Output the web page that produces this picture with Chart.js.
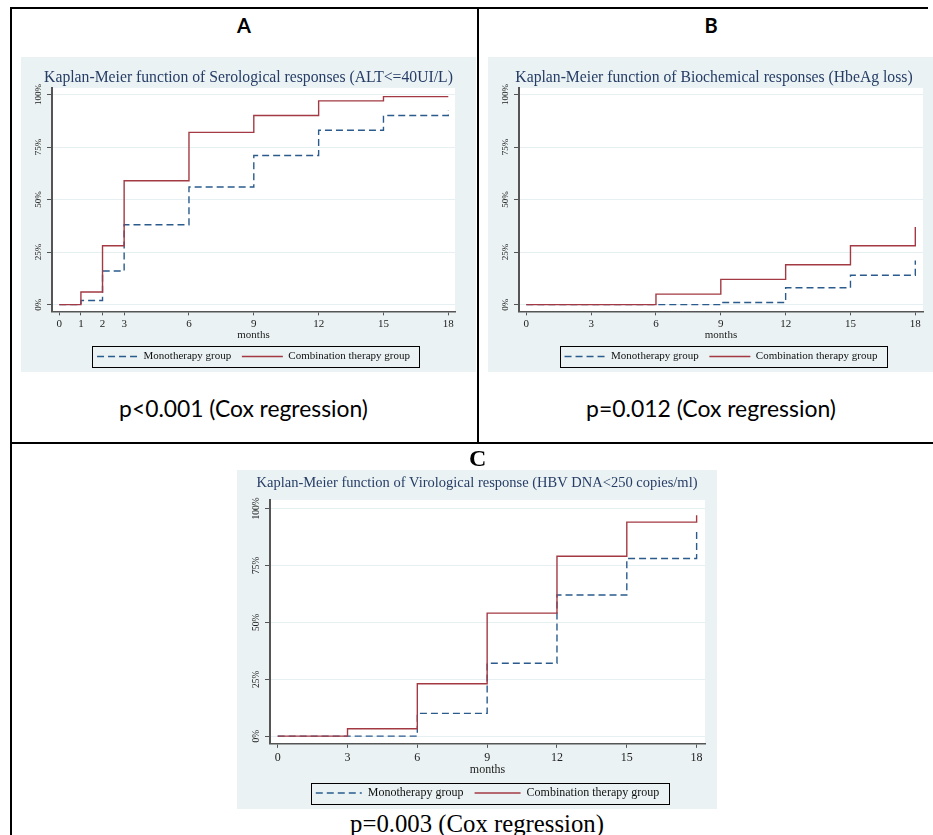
<!DOCTYPE html>
<html>
<head>
<meta charset="utf-8">
<script src="https://cdn.jsdelivr.net/npm/chart.js@4.4.1/dist/chart.umd.min.js"></script>
<style>
html,body{margin:0;padding:0;width:933px;height:835px;overflow:hidden;background:#fff;}
.ln{position:absolute;background:#000;}
canvas{position:absolute;background:#EAF2F3;}
.txt{position:absolute;white-space:nowrap;line-height:1;transform:translate(-50%,-50%);color:#000;}
.sans{font-family:Lato,"Open Sans",sans-serif;}
.serif{font-family:"Liberation Serif","Times New Roman",serif;}
</style>
</head>
<body>
<div class="ln" style="left:10px;top:7px;width:918px;height:1.5px"></div>
<div class="ln" style="left:10px;top:7px;width:1.5px;height:830px"></div>
<div class="ln" style="left:477px;top:7px;width:1.5px;height:436px"></div>
<div class="ln" style="left:10px;top:442px;width:923px;height:2px"></div>

<canvas id="cA" width="455" height="315" style="left:21px;top:57px"></canvas>
<canvas id="cB" width="452" height="315" style="left:488px;top:57px"></canvas>
<canvas id="cC" width="480" height="339" style="left:237px;top:470px"></canvas>

<div class="txt sans" id="hA" style="left:244px;top:25px;font-size:20px;font-weight:700">A</div>
<div class="txt sans" id="hB" style="left:711px;top:25px;font-size:20px;font-weight:700">B</div>
<div class="txt sans" id="pA" style="left:243.5px;top:408px;font-size:24px">p&lt;0.001 (Cox regression)</div>
<div class="txt sans" id="pB" style="left:711px;top:408px;font-size:24px">p=0.012 (Cox regression)</div>
<div class="txt serif" id="hC" style="left:477.7px;top:458px;font-size:24px;font-weight:700">C</div>
<div class="txt serif" id="pC" style="left:477px;top:824px;font-size:25px">p=0.003 (Cox regression)</div>

<script>
// ---------- data ----------
const yTicks = [0, 25, 50, 75, 100];
const xTicksA = [0, 1, 2, 3, 6, 9, 12, 15, 18];
const xTicksBC = [0, 3, 6, 9, 12, 15, 18];
const seriesNames = ['Monotherapy group', 'Combination therapy group'];

const monthsA = [0, 1, 2, 3, 6, 9, 12, 15, 18];
const monoA   = [0, 2, 16, 38, 56, 71, 83, 90, 92.5];
const comboA  = [0, 6, 28, 59, 82, 90, 97, 99, 99];

const monthsB = [0, 3, 6, 9, 12, 15, 18];
const monoB   = [0, 0, 0, 1, 8, 14, 21];
const comboB  = [0, 0, 5, 12, 19, 28, 37];

const monthsC = [0, 3, 6, 9, 12, 15, 18];
const monoC   = [0, 0, 10, 32, 62, 78, 90];
const comboC  = [0, 3.2, 23, 54, 79, 94, 97];

const titleA = 'Kaplan-Meier function of Serological responses (ALT<=40UI/L)';
const titleB = 'Kaplan-Meier function of Biochemical responses (HbeAg loss)';
const titleC = 'Kaplan-Meier function of Virological response (HBV DNA<250 copies/ml)';
const xTitle = 'months';

// ---------- styles ----------
const SERIF = "'Liberation Serif','Times New Roman',serif";
const BLUE = '#2A5B8C';
const RED = '#A33A43';
const AXIS = '#555555';
const GRID = '#E6EFF1';
const TITLE = '#263D66';

const plotBg = {
  id: 'plotBg',
  beforeDraw(chart) {
    const {ctx, chartArea: a} = chart;
    ctx.save();
    ctx.fillStyle = '#ffffff';
    ctx.fillRect(a.left, a.top, a.width, a.height);
    ctx.restore();
  }
};

const legendBox = {
  id: 'legendBox',
  afterDraw(chart, args, opts) {
    const hb = chart.legend && chart.legend.legendHitBoxes;
    if (!hb || !hb.length) return;
    const first = hb[0], last = hb[hb.length - 1];
    const cy = first.top + first.height / 2;
    const l = first.left - opts.padL, r = last.left + last.width + opts.padR;
    const ctx = chart.ctx;
    ctx.save();
    ctx.strokeStyle = '#000';
    ctx.lineWidth = 1;
    ctx.strokeRect(Math.round(l) + 0.5, Math.round(cy - opts.half) + 0.5, Math.round(r - l), Math.round(opts.half * 2));
    ctx.restore();
  }
};

function makeChart(id, d, s) {
  const pts = (xs, ys) => xs.map((m, i) => ({x: m, y: ys[i]}));
  return new Chart(document.getElementById(id), {
    type: 'line',
    data: {
      datasets: [
        {label: seriesNames[0], data: pts(d.months, d.mono), borderColor: BLUE, backgroundColor: BLUE,
         borderWidth: 1.4, borderDash: [7, 4], stepped: 'before', pointRadius: 0, fill: false, order: 1},
        {label: seriesNames[1], data: pts(d.months, d.combo), borderColor: RED, backgroundColor: RED,
         borderWidth: 1.4, stepped: 'before', pointRadius: 0, fill: false, order: 0}
      ]
    },
    options: {
      responsive: false, animation: false, events: [], devicePixelRatio: 1,
      layout: {padding: 0},
      plugins: {
        tooltip: {enabled: false},
        title: {display: true, text: d.title, color: TITLE,
          font: {family: SERIF, size: s.titleSize, lineHeight: 1.2, weight: 'normal'},
          padding: {top: s.titleTop, bottom: s.titleBottom}},
        legend: {
          position: 'bottom', fullSize: false,
          labels: {
            usePointStyle: true, pointStyleWidth: s.boxW, boxHeight: s.font, padding: s.legPad,
            color: '#111', font: {family: SERIF, size: s.font, lineHeight: 1},
            generateLabels: chart => chart.data.datasets.map((ds, i) => ({
              text: ds.label, datasetIndex: i, pointStyle: 'line', hidden: false,
              strokeStyle: ds.borderColor, fillStyle: ds.borderColor, fontColor: '#111',
              lineWidth: ds.borderWidth, lineDash: ds.borderDash || []
            }))
          }
        },
        legendBox: {padL: 5, padR: s.boxPadR, half: 10.5}
      },
      scales: {
        x: {
          type: 'linear', position: 'bottom', min: s.xMin, max: s.xMax,
          afterBuildTicks: sc => { sc.ticks = d.xTicks.map(v => ({value: v})); },
          afterFit: sc => { sc.height = s.xH; },
          ticks: {autoSkip: false, maxRotation: 0, minRotation: 0, color: '#222', padding: s.xPad,
            font: {family: SERIF, size: s.font, lineHeight: 1}},
          grid: {drawOnChartArea: false, tickLength: 4, tickColor: AXIS, tickWidth: 1},
          border: {color: AXIS, width: 1.5},
          title: {display: true, text: xTitle, color: '#222',
            font: {family: SERIF, size: s.font, lineHeight: 1}, padding: {top: 0, bottom: 0}}
        },
        y: {
          type: 'linear', position: 'left', min: s.yMin, max: s.yMax,
          afterBuildTicks: sc => { sc.ticks = yTicks.map(v => ({value: v})); },
          afterFit: sc => { sc.width = s.yW; },
          ticks: {callback: v => v + '%', minRotation: 90, maxRotation: 90, crossAlign: 'center',
            padding: s.yPad, color: '#222', font: {family: SERIF, size: s.yFont, lineHeight: 1}},
          grid: {color: GRID, lineWidth: 1, tickLength: 5, tickColor: AXIS},
          border: {color: AXIS, width: 2}
        },
        y2: {
          type: 'linear', position: 'right', display: true,
          grid: {display: false}, ticks: {display: false}, border: {display: false},
          afterFit: sc => { sc.width = s.rightW; }
        }
      }
    },
    plugins: [plotBg, legendBox]
  });
}

const styleAB = {titleSize: 15.7, titleTop: 11.6, titleBottom: 0.5, font: 11, yFont: 9, boxW: 41,
  legPad: 10.65, boxPadR: 9, xPad: 3, xH: 29, yW: 31, yPad: -2, yMin: -3.2, yMax: 103.15};

makeChart('cA', {months: monthsA, mono: monoA, combo: comboA, xTicks: xTicksA, title: titleA},
  Object.assign({}, styleAB, {xMin: -0.338, xMax: 18.31, rightW: 21}));
makeChart('cB', {months: monthsB, mono: monoB, combo: comboB, xTicks: xTicksBC, title: titleB},
  Object.assign({}, styleAB, {xMin: -0.338, xMax: 18.356, rightW: 17}));
makeChart('cC', {months: monthsC, mono: monoC, combo: comboC, xTicks: xTicksBC, title: titleC},
  {titleSize: 14.5, titleTop: 4.3, titleBottom: 8.3, font: 12, yFont: 9.5, boxW: 46,
   legPad: 11.15, boxPadR: 10, xPad: 4, xH: 32, yW: 33, yPad: -2.5, yMin: -3.4, yMax: 103.7,
   xMin: -0.33, xMax: 18.36, rightW: 12});

// fit the outside captions to the measured widths of the reference
function fitWidth(id, w) {
  const el = document.getElementById(id);
  const cur = el.getBoundingClientRect().width;
  const fs = parseFloat(getComputedStyle(el).fontSize);
  el.style.fontSize = (fs * w / cur) + 'px';
}
fitWidth('pA', 249);
fitWidth('pB', 250);
fitWidth('pC', 254);
</script>
</body>
</html>
